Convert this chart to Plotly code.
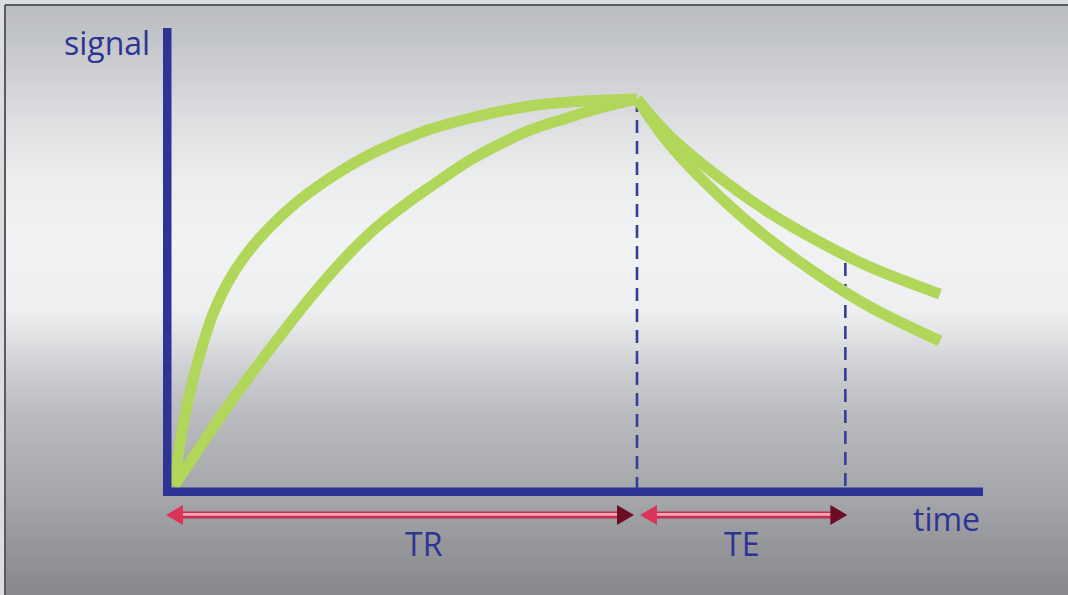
import plotly.graph_objects as go

# ---------------- data ----------------
TR = 100.0          # repetition time (arbitrary time units)
TE = 45.0           # echo time after TR

# recovery curves (time, signal)
fast_rise_t = [0, 1.08, 2.38, 4.10, 6.05, 8.42, 11.45, 15.33, 20.30, 26.57, 34.34, 43.84, 54.21, 65.01, 76.89, 88.77, 100]
fast_rise_s = [0, 9.30, 18.35, 27.39, 35.92, 44.44, 52.20, 59.43, 66.41, 73.39, 80.10, 86.56, 91.73, 95.35, 98.19, 99.48, 100]
slow_rise_t = [0, 3.46, 7.78, 14.90, 22.25, 29.37, 36.50, 43.84, 50.97, 55.94, 63.28, 70.41, 77.54, 84.88, 92.01, 100]
slow_rise_s = [0, 6.20, 13.95, 26.10, 37.73, 48.58, 58.40, 66.93, 73.64, 77.78, 83.72, 88.37, 92.25, 95.09, 97.67, 100]

# decay curves after TR
decay_t = [100, 107.13, 117.93, 128.73, 139.52, 150.32, 165.44]
slow_decay_s = [100, 90.4, 79.6, 70.5, 63.0, 56.6, 49.6]
fast_decay_s = [100, 88.1, 74.7, 63.6, 54.3, 46.3, 37.5]

# dashed markers: (time, top signal)
marker_t = [TR, TR + TE]
marker_top = [100, 57.6]

# labels
y_label = "signal"
x_label = "time"
span_labels = ["TR", "TE"]

# ---------------- styling / geometry ----------------
W, H = 1068, 595
X0_PX, PX_PER_T = 174.0, 4.63
Y0_PX, PX_PER_S = 486.0, 3.87

BLUE = "#2d3494"
GREEN = "#b0d65a"
FONT = "Open Sans"


def px(x):
    return x / W


def py(y):
    return 1 - y / H


def t2px(t):
    return X0_PX + t * PX_PER_T


def hexmix(c1, c2, f):
    a = [int(c1[i:i + 2], 16) for i in (1, 3, 5)]
    b = [int(c2[i:i + 2], 16) for i in (1, 3, 5)]
    return "#" + "".join("%02x" % round(a[k] + (b[k] - a[k]) * f) for k in range(3))


shapes = []

# background gradient
stops = [(0, "#b8bbbf"), (60, "#c9cbce"), (120, "#dddee0"), (180, "#eceded"),
         (240, "#f1f2f3"), (310, "#eeeff0"), (335, "#e1e2e4"), (370, "#cdced1"),
         (410, "#bbbdc0"), (460, "#adafb3"), (510, "#a0a2a6"), (560, "#909296"),
         (595, "#86888c")]
band = 4
y = 6
while y < H:
    yc = y + band / 2
    for i in range(len(stops) - 1):
        if stops[i][0] <= yc <= stops[i + 1][0]:
            f = (yc - stops[i][0]) / (stops[i + 1][0] - stops[i][0])
            col = hexmix(stops[i][1], stops[i + 1][1], f)
            break
    else:
        col = stops[-1][1]
    shapes.append(dict(type="rect", xref="paper", yref="paper", layer="below",
                       x0=px(6), x1=1, y0=py(min(H, y + band + 1)), y1=py(y),
                       fillcolor=col, line=dict(width=0)))
    y += band

# outer frame line
shapes.append(dict(type="line", xref="paper", yref="paper", layer="below",
                   x0=px(5), x1=1, y0=py(5), y1=py(5), line=dict(color="#5a5b5e", width=2)))
shapes.append(dict(type="line", xref="paper", yref="paper", layer="below",
                   x0=px(5), x1=px(5), y0=py(5), y1=0, line=dict(color="#5a5b5e", width=2)))

# axes bars
shapes.append(dict(type="rect", xref="paper", yref="paper", layer="above",
                   x0=px(163), x1=px(171.5), y0=py(496), y1=py(28),
                   fillcolor=BLUE, line=dict(width=0)))
shapes.append(dict(type="rect", xref="paper", yref="paper", layer="above",
                   x0=px(163), x1=px(983), y0=py(496), y1=py(487.5),
                   fillcolor=BLUE, line=dict(width=0)))

# double arrows
ARROW_Y = 515


def arrow(xl, xr):
    hl = 17
    hh = 10
    out = []
    out.append(dict(type="line", xref="paper", yref="paper", layer="above",
                    x0=px(xl + hl - 2), x1=px(xr - hl + 2), y0=py(ARROW_Y), y1=py(ARROW_Y),
                    line=dict(color="#c0304f", width=7)))
    out.append(dict(type="line", xref="paper", yref="paper", layer="above",
                    x0=px(xl + hl - 2), x1=px(xr - hl + 2), y0=py(ARROW_Y - 0.5), y1=py(ARROW_Y - 0.5),
                    line=dict(color="#f0889c", width=3)))
    out.append(dict(type="line", xref="paper", yref="paper", layer="above",
                    x0=px(xl + hl - 2), x1=px(xr - hl + 2), y0=py(ARROW_Y - 1), y1=py(ARROW_Y - 1),
                    line=dict(color="#f9c4cf", width=1)))
    out.append(dict(type="path", xref="paper", yref="paper", layer="above",
                    path="M %f %f L %f %f L %f %f Z" % (px(xl), py(ARROW_Y), px(xl + hl), py(ARROW_Y - hh),
                                                       px(xl + hl), py(ARROW_Y + hh)),
                    fillcolor="#dc3458", line=dict(width=0)))
    out.append(dict(type="path", xref="paper", yref="paper", layer="above",
                    path="M %f %f L %f %f L %f %f Z" % (px(xr), py(ARROW_Y), px(xr - hl), py(ARROW_Y - hh),
                                                       px(xr - hl), py(ARROW_Y + hh)),
                    fillcolor="#6c0d24", line=dict(width=0)))
    return out


shapes += arrow(t2px(0) - 8, t2px(TR) - 3)
shapes += arrow(t2px(TR) + 3, t2px(TR + TE) + 2)

fig = go.Figure()

# dashed vertical markers
for t, top in zip(marker_t, marker_top):
    fig.add_trace(go.Scatter(x=[t, t], y=[top, -0.5], mode="lines",
                             line=dict(color="#363c9c", width=2.6, dash="13px,8px"),
                             hoverinfo="skip", showlegend=False))

# curves
for xs, ys in [(fast_rise_t, fast_rise_s), (slow_rise_t, slow_rise_s),
               (decay_t, slow_decay_s), (decay_t, fast_decay_s)]:
    fig.add_trace(go.Scatter(x=xs, y=ys, mode="lines",
                             line=dict(color=GREEN, width=11, shape="spline", smoothing=1.0),
                             hoverinfo="skip", showlegend=False))

annotations = [
    dict(text=y_label, x=px(107), y=py(43), xref="paper", yref="paper", showarrow=False,
         xanchor="center", yanchor="middle", font=dict(family=FONT, size=32, color=BLUE)),
    dict(text=x_label, x=px(946), y=py(518), xref="paper", yref="paper", showarrow=False,
         xanchor="center", yanchor="middle", font=dict(family=FONT, size=32, color=BLUE)),
    dict(text=span_labels[0], x=px(424), y=py(543), xref="paper", yref="paper", showarrow=False,
         xanchor="center", yanchor="middle", font=dict(family=FONT, size=32, color=BLUE)),
    dict(text=span_labels[1], x=TR + TE / 2, y=py(543), xref="x", yref="paper", showarrow=False,
         xanchor="center", yanchor="middle", font=dict(family=FONT, size=32, color=BLUE)),
]

fig.update_layout(
    width=W, height=H,
    margin=dict(l=0, r=0, t=0, b=0, pad=0),
    paper_bgcolor="#dcdddf",
    plot_bgcolor="rgba(0,0,0,0)",
    xaxis=dict(range=[(0 - X0_PX) / PX_PER_T, (W - X0_PX) / PX_PER_T], visible=False, fixedrange=True),
    yaxis=dict(range=[(Y0_PX - H) / PX_PER_S, Y0_PX / PX_PER_S], visible=False, fixedrange=True),
    shapes=shapes,
    annotations=annotations,
    showlegend=False,
)

fig.write_html("out.html", config={"displayModeBar": False},
               post_script="document.body.style.margin='0';document.body.style.overflow='hidden';")
